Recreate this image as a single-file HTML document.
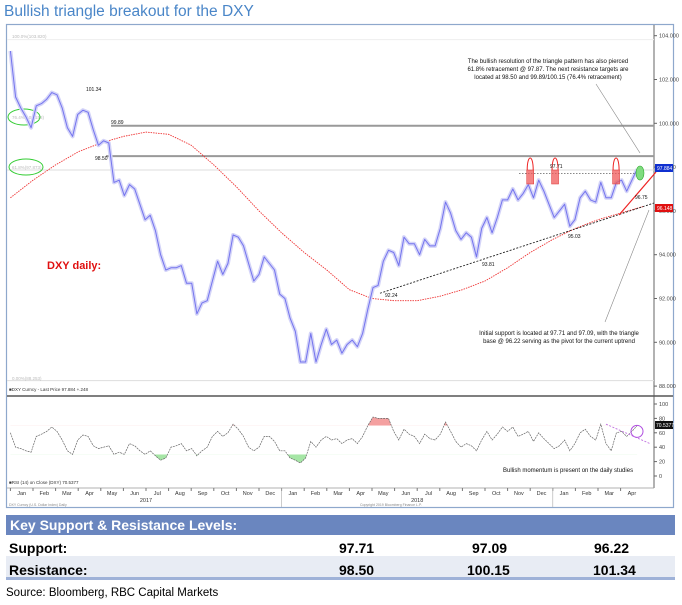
<!DOCTYPE html>
<html><head><meta charset="utf-8">
<style>
body{margin:0;background:#fff;width:682px;height:605px;overflow:hidden;font-family:"Liberation Sans",sans-serif}
svg{display:block}
</style></head>
<body>
<svg id="c" width="682" height="605" viewBox="0 0 682 605" xmlns="http://www.w3.org/2000/svg">
<text x="4" y="16" font-size="15.5" fill="#4a86c8" font-family="Liberation Sans, sans-serif">Bullish triangle breakout for the DXY</text>
<rect x="6.5" y="24.5" width="667" height="483" fill="#fff" stroke="#8ea8cc" stroke-width="1.2"/>
<g id="plot"></g>
<rect x="6" y="515" width="669" height="20" fill="#6a86bf"/>
<text x="10" y="530" font-size="14" font-weight="bold" fill="#fff">Key Support &amp; Resistance Levels:</text>
<rect x="6" y="556" width="669" height="22" fill="#e8ecf4"/>
<rect x="6" y="577" width="669" height="3" fill="#9fb2d8"/>
<g font-size="14" font-weight="bold" fill="#000">
<text x="9" y="553">Support:</text>
<text x="339" y="553">97.71</text>
<text x="472" y="553">97.09</text>
<text x="594" y="553">96.22</text>
<text x="9" y="575">Resistance:</text>
<text x="339" y="575">98.50</text>
<text x="467" y="575">100.15</text>
<text x="593" y="575">101.34</text>
</g>
<text x="6" y="596" font-size="11.5" fill="#000">Source: Bloomberg, RBC Capital Markets</text>
</svg>
<script>
const priceWeekly=[103.3,101.2,100.7,100.3,99.8, 100.8,100.9,101.1,101.4, 101.3,100.7,99.8,99.4,100.4, 100.6,100.5,99.7,99.0, 99.2,99.1,97.3,97.4, 96.7,97.2,97.0,96.3,95.6, 95.8,95.1,94.0,93.3, 93.4,93.4,93.5,92.7,92.7, 91.3,91.8,91.9,92.8, 93.7,93.1,93.6,94.9, 94.8,94.4,93.6,92.8,93.1, 93.9,93.6,93.3,92.2,
92.0,91.1,90.5,89.1, 89.1,90.4,89.1,89.9,90.6, 89.9,90.1,89.5,89.9, 90.1,89.8,90.4,91.5, 92.5,92.6,93.7,94.2, 94.1,93.5,94.8,94.5,94.5, 94.0,94.7,94.4,94.4, 95.2,96.4,95.9,95.1,94.7, 95.0,94.8,93.9,95.2, 95.7,95.0,95.7,96.5, 96.5,97.0,96.5,96.8,97.2, 96.6,97.4,96.9,96.3,
95.7,96.0,96.3,95.3, 95.6,96.6,96.9,96.5, 96.4,97.3,96.6,96.6,97.3, 97.4,96.9,97.4,97.9];
const rsiWeekly=[60,40,38,35,33, 55,58,62,68, 62,50,35,30,50, 57,55,42,38, 40,42,30,33, 30,45,42,35,30, 35,28,22,25, 40,42,45,35,38, 28,35,40,55, 62,55,60,72, 65,55,40,35,40, 55,55,48,35,
35,25,22,18, 25,48,40,50,55, 50,52,45,50, 52,45,55,70, 82,80,80,80, 62,50,65,58,55, 45,58,52,50, 58,75,62,48,40, 45,42,35,50, 62,50,58,68, 62,68,55,58,62, 48,60,52,45,
38,42,50,35, 45,60,65,55, 50,72,45,35,60, 62,55,62,70];
const maMonthly=[96.6,97.4,98.1,98.7,99.1,99.4,99.6,99.5,99.0,98.1,97.1,96.0,95.0,94.1,93.3,92.4,92.0,91.9,91.9,92.1,92.4,92.8,93.4,94.1,94.7,95.2,95.6,95.9,96.2];
const priceTicks=[104,102,100,98,96,94,92,90,88];
const rsiTicks=[100,80,60,40,20,0];
const monthLabels=["Jan","Feb","Mar","Apr","May","Jun","Jul","Aug","Sep","Oct","Nov","Dec","Jan","Feb","Mar","Apr","May","Jun","Jul","Aug","Sep","Oct","Nov","Dec","Jan","Feb","Mar","Apr"];
const yearLabels=["2017","2018","2019"];
const levelLines=[99.89,98.50];
const resistanceTouches=[23.0,24.1,26.8];

const NS="http://www.w3.org/2000/svg";
const g=document.getElementById('plot');
const xT=t=>10.4+t*22.6;
const yP=p=>35.7+(104-p)*21.9;
const yR=r=>476-r*0.72;
const weekStep=27.73/(priceWeekly.length-1);
function el(tag,attrs,parent){const e=document.createElementNS(NS,tag);for(const k in attrs)e.setAttribute(k,attrs[k]);(parent||g).appendChild(e);return e;}
function txt(x,y,s,size,fill,anchor,parent){const e=el('text',{x:x,y:y,'font-size':size,fill:fill||'#000','text-anchor':anchor||'start','font-family':'Liberation Sans, sans-serif'},parent);e.textContent=s;return e;}

let a=el('line',{x1:654,y1:25,x2:654,y2:488,stroke:'#666','stroke-width':1});

a=el('line',{x1:7,y1:396,x2:673,y2:396,stroke:'#555','stroke-width':1.5});

a=el('line',{x1:7,y1:488,x2:654,y2:488,stroke:'#999','stroke-width':0.8});


priceTicks.forEach(p=>{
  const l=el('line',{x1:654,y1:yP(p),x2:657,y2:yP(p),stroke:'#666'});
  
  const t=txt(659,yP(p)+2,p.toFixed(3),5.5,'#444');
  
});
rsiTicks.forEach(r=>{
  const l=el('line',{x1:654,y1:yR(r),x2:657,y2:yR(r),stroke:'#666'});
  
  const t=txt(659,yR(r)+2,String(r),5.5,'#444');
  
});
monthLabels.forEach((m,i)=>{
  const l=el('line',{x1:xT(i),y1:488,x2:xT(i),y2:491,stroke:'#777'});
  
  const t=txt(xT(i+0.5),495,m,5.5,'#333','middle');
  
});
yearLabels.forEach((y,i)=>{
  const t=txt(xT(i*12+6),502,y,5.5,'#333','middle');
  
  if(i>0){const l=el('line',{x1:xT(i*12),y1:488,x2:xT(i*12),y2:507,stroke:'#aaa','stroke-width':0.6});
  }
});

a=el('line',{x1:7,y1:yP(97.87),x2:654,y2:yP(97.87),stroke:'#ddd','stroke-width':1});

a=el('line',{x1:7,y1:yP(103.82),x2:654,y2:yP(103.82),stroke:'#eee','stroke-width':1});

a=el('line',{x1:7,y1:yP(88.25),x2:654,y2:yP(88.25),stroke:'#ddd','stroke-width':1});

a=txt(12,38,'100.0%(103.820)',4.5,'#bbb');
a=txt(12,380,'0.00%(88.253)',4.5,'#bbb');
a=txt(12,119,'76.4%(100.158)',4.5,'#bbb');
a=txt(12,169,'61.8%(97.873)',4.5,'#bbb');
a=el('ellipse',{cx:24,cy:117,rx:16,ry:8,fill:'none',stroke:'#3c3','stroke-width':1});

a=el('ellipse',{cx:26,cy:167,rx:17,ry:8,fill:'none',stroke:'#3c3','stroke-width':1});


const levelStart=[111,106];
levelLines.forEach((p,i)=>{
  const l=el('line',{x1:levelStart[i],y1:yP(p),x2:654,y2:yP(p),stroke:'#999','stroke-width':2});
  
});

let d='';maMonthly.forEach((v,i)=>{d+=(i?'L':'M')+xT(i).toFixed(1)+','+yP(v).toFixed(1);});
a=el('path',{d:d,fill:'none',stroke:'#e33','stroke-width':0.9,'stroke-dasharray':'1.5,1'});


d='';priceWeekly.forEach((v,i)=>{d+=(i?'L':'M')+xT(i*weekStep).toFixed(1)+','+yP(v).toFixed(1);});
a=el('path',{d:d,fill:'none',stroke:'#d4d4f8','stroke-width':4,'stroke-linejoin':'round'});

a=el('path',{d:d,fill:'none',stroke:'#7474ee','stroke-width':1,'stroke-linejoin':'round'});


a=el('line',{x1:380,y1:yP(92.24),x2:654,y2:203,stroke:'#222','stroke-width':0.9,'stroke-dasharray':'2,1.5'});

a=el('line',{x1:619,y1:215,x2:656,y2:172,stroke:'#e22','stroke-width':1.2});

a=el('line',{x1:519,y1:yP(97.71),x2:642,y2:yP(97.71),stroke:'#777','stroke-width':0.8,'stroke-dasharray':'1.5,1.5'});

resistanceTouches.forEach(t=>{
  const x=xT(t);
  const r=el('rect',{x:x-3.5,y:170,width:7,height:14,fill:'rgba(240,90,90,0.75)',stroke:'#d33','stroke-width':0.5});
  
  const arc=el('path',{d:`M${x-3},170 C${x-3},154 ${x+3},154 ${x+3},170`,fill:'none',stroke:'#e22','stroke-width':1});
  
});
a=el('ellipse',{cx:640,cy:173,rx:4,ry:7,fill:'#7fdc7f',stroke:'#3a3','stroke-width':0.6});


[['101.34',86,91],['99.89',111,124],['98.50',95,160],['97.71',550,168],['92.24',385,297],['93.81',482,266],['95.03',568,238],['96.75',635,199]].forEach(l=>{
  const t=txt(l[1],l[2],l[0],5,'#111');
});
a=el('rect',{x:655,y:164,width:18,height:8,fill:'#1030d0'});
a=txt(657,170,'97.884',5,'#fff');
a=el('rect',{x:655,y:204,width:18,height:8,fill:'#e01010'});
a=txt(657,210,'96.148',5,'#fff');

['The bullish resolution of the triangle pattern has also pierced','61.8% retracement @ 97.87. The next resistance targets are','located at 98.50 and 99.89/100.15 (76.4% retracement)'].forEach((s,i)=>{
  const t=txt(548,63+i*8,s,6,'#111','middle');
});
a=el('line',{x1:596,y1:84,x2:640,y2:153,stroke:'#888','stroke-width':0.6});
['Initial support is located at 97.71 and 97.09, with the triangle','base @ 96.22 serving as the pivot for the current uptrend'].forEach((s,i)=>{
  const t=txt(559,335+i*8,s,6,'#111','middle');
});
a=el('line',{x1:605,y1:322,x2:649,y2:210,stroke:'#888','stroke-width':0.6});
a=txt(47,269,'DXY daily:',11,'#e01010');a.setAttribute('font-weight','bold');
a=txt(9,391,'■DXY Curncy - Last Price 97.884 +.248',4.5,'#333');

const rsiPts=rsiWeekly.map((v,i)=>[xT(i*weekStep),yR(v)]);
d='';rsiPts.forEach((p,i)=>{d+=(i?'L':'M')+p[0].toFixed(1)+','+p[1].toFixed(1);});
const defs=el('defs',{});
const c1=el('clipPath',{id:'above70'},defs);el('rect',{x:0,y:0,width:682,height:yR(70)},c1);
const c2=el('clipPath',{id:'below30'},defs);el('rect',{x:0,y:yR(30),width:682,height:200},c2);
const x0=rsiPts[0][0],x1=rsiPts[rsiPts.length-1][0];
a=el('path',{d:d+`L${x1},${yR(70)}L${x0},${yR(70)}Z`,fill:'#f4a0a0','clip-path':'url(#above70)'});

a=el('path',{d:d+`L${x1},${yR(30)}L${x0},${yR(30)}Z`,fill:'#a6e6a6','clip-path':'url(#below30)'});

a=el('path',{d:d,fill:'none',stroke:'#666','stroke-width':0.7,'stroke-dasharray':'2,0.8'});

a=el('line',{x1:606,y1:yR(72),x2:650,y2:yR(45),stroke:'#c070e0','stroke-width':0.9,'stroke-dasharray':'2,1.5'});

a=el('circle',{cx:637,cy:yR(62),r:6,fill:'none',stroke:'#b050e0','stroke-width':1});

a=el('rect',{x:655,y:421,width:18,height:8,fill:'#111'});
a=txt(656,427,'70.5377',5,'#fff');
a=txt(503,472,'Bullish momentum is present on the daily studies',6,'#111');
a=txt(9,484,'■RSI (14) on Close (DXY) 70.5377',4.5,'#333');
a=txt(9,506,'DXY Curncy (U.S. Dollar Index) Daily',3.5,'#888');
a=txt(360,506,'Copyright 2019 Bloomberg Finance L.P.',3.5,'#888');
</script>
</body></html>
